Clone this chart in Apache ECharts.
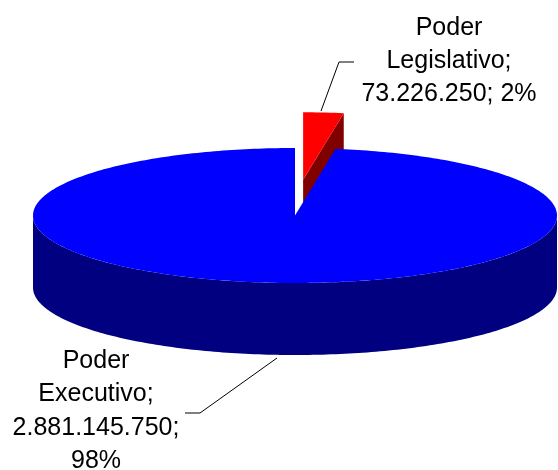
<!DOCTYPE html>
<html><head><meta charset="utf-8">
<script src="https://cdn.jsdelivr.net/npm/echarts@6/dist/echarts.min.js"></script>
<style>html,body{margin:0;padding:0;background:#fff}#c{width:558px;height:470px}</style>
</head><body><div id="c"></div>
<script>
// ---- data ----
const categories = ['Poder Legislativo', 'Poder Executivo'];
const values = [73226250, 2881145750];

// ---- styles ----
const topColors = ['#FF0000', '#0000FF'];
const sideColors = ['#800000', '#000080'];
const explode = [0.53, 0];
const EXPLODE_X_SCALE = 0.75;
const CX = 295, CY = 215.5, RX = 262, RY = 67.5, DEPTH = 72;
const FONT = '25px "Liberation Sans", Arial, sans-serif';
const labelLayout = [
  { x: 449, y: [28.5, 61.5, 94.5], line: [[321, 111], [339, 62], [354, 62]] },
  { x: 96, y: [361, 394.5, 428, 461.5], line: [[277, 358], [200, 413], [185, 413]] }
];

function fmt(n) {
  return String(n).replace(/\B(?=(\d{3})+(?!\d))/g, '.');
}
const total = values.reduce((a, b) => a + b, 0);
const cum = [0];
values.forEach(v => cum.push(cum[cum.length - 1] + v));

function pt(t, off, dz) {
  return [CX + off[0] + RX * Math.sin(t), CY + off[1] - RY * Math.cos(t) + dz];
}
function arc(a, b, off, dz) {
  const pts = [];
  const n = Math.max(2, Math.ceil(Math.abs(b - a) / (Math.PI / 180)));
  for (let k = 0; k <= n; k++) pts.push(pt(a + (b - a) * k / n, off, dz));
  return pts;
}

function renderItem(params, api) {
  const i = params.dataIndex;
  const v = api.value(0);
  const a = cum[i] / total * 2 * Math.PI;
  const b = a + v / total * 2 * Math.PI;
  const mid = (a + b) / 2;
  const e = explode[i];
  const off = [e * RX * Math.sin(mid) * EXPLODE_X_SCALE, -e * RY * Math.cos(mid)];
  const apex = [CX + off[0], CY + off[1]];
  const children = [];
  // radial faces
  const faces = [];
  if (Math.sin(a) < -1e-6) faces.push(a);
  if (Math.sin(b) > 1e-6) faces.push(b);
  faces.forEach(t => {
    const r = pt(t, off, 0);
    children.push({
      type: 'polygon',
      shape: { points: [apex, r, [r[0], r[1] + DEPTH], [apex[0], apex[1] + DEPTH]] },
      style: { fill: sideColors[i] }
    });
  });
  // outer side (front half only)
  const s0 = Math.max(a, Math.PI / 2), s1 = Math.min(b, 3 * Math.PI / 2);
  if (s1 > s0) {
    const pts = arc(s0, s1, off, 0).concat(arc(s1, s0, off, DEPTH));
    children.push({ type: 'polygon', shape: { points: pts }, style: { fill: sideColors[i] } });
  }
  // top face
  children.push({
    type: 'polygon',
    shape: { points: [apex].concat(arc(a, b, off, 0)) },
    style: { fill: topColors[i] }
  });
  // label
  const L = labelLayout[i];
  const pct = Math.round(v / total * 100) + '%';
  const parts = categories[i].split(' ');
  const lines = i === 0
    ? [parts[0], parts[1] + ';', fmt(v) + '; ' + pct]
    : [parts[0], parts[1] + ';', fmt(v) + ';', pct];
  lines.forEach((s, k) => {
    children.push({
      type: 'text', z2: 10,
      style: { text: s, x: L.x, y: L.y[k], align: 'center', verticalAlign: 'middle', font: FONT, fill: '#000' }
    });
  });
  children.push({
    type: 'polyline', z2: 10,
    shape: { points: L.line },
    style: { stroke: '#000', lineWidth: 1, fill: null }
  });
  return { type: 'group', children: children };
}

const chart = echarts.init(document.getElementById('c'), null, { renderer: 'canvas' });
chart.setOption({
  backgroundColor: '#fff',
  animation: false,
  series: [{
    type: 'custom',
    coordinateSystem: 'none',
    renderItem: renderItem,
    data: values.map((v, i) => ({ name: categories[i], value: [v] }))
  }]
});
</script>
</body></html>
